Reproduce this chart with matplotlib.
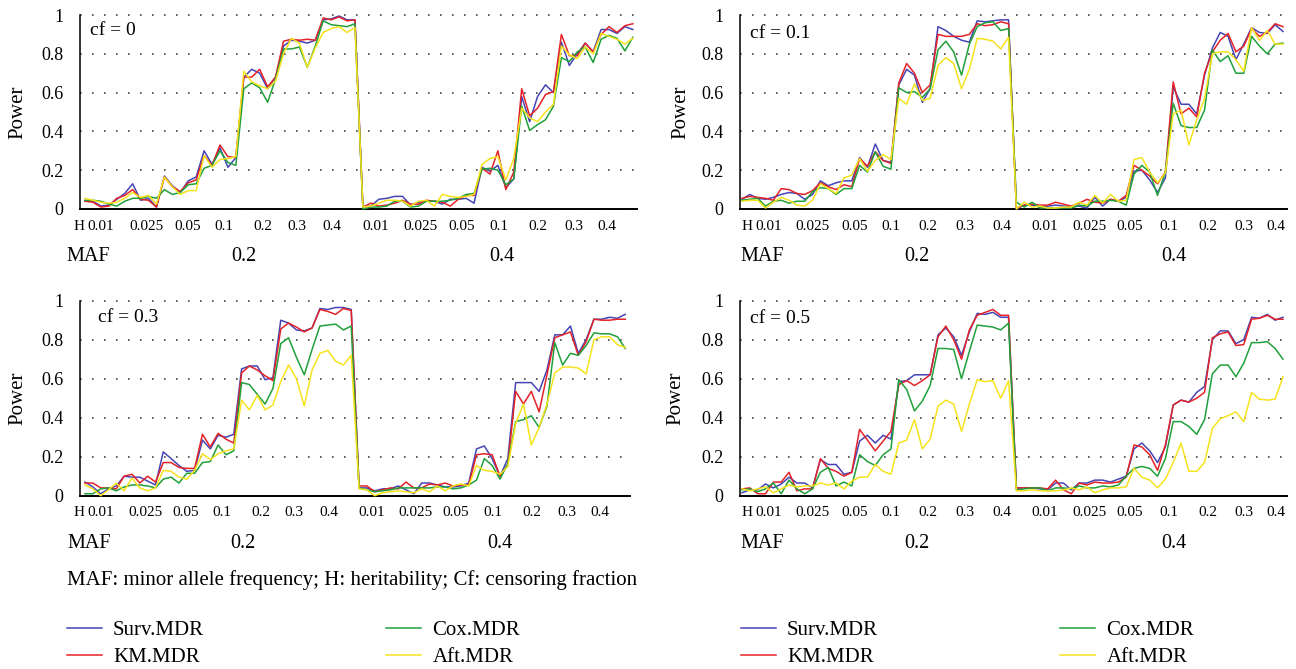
import numpy as np
import matplotlib.pyplot as plt
from matplotlib.transforms import blended_transform_factory

plt.rcParams['font.family'] = ['Liberation Serif', 'DejaVu Serif']

methods = ['Surv.MDR', 'KM.MDR', 'Cox.MDR', 'Aft.MDR']
colors = ['#4545b5', '#e42328', '#20a03a', '#f6e31e']
h_labels = ['0.01', '0.025', '0.05', '0.1', '0.2', '0.3', '0.4']
maf_labels = ['0.2', '0.4']
cf_labels = ['cf = 0', 'cf = 0.1', 'cf = 0.3', 'cf = 0.5']

# power per scenario: 2 MAF x 7 H x 5 models = 70 points
cf0_surv = [0.04, 0.04, 0.015, 0.02, 0.05, 0.08, 0.13, 0.045, 0.055, 0.01,
            0.17, 0.12, 0.085, 0.145, 0.165, 0.30, 0.23, 0.315, 0.215, 0.265,
            0.68, 0.72, 0.70, 0.62, 0.68, 0.84, 0.87, 0.865, 0.855, 0.87,
            0.975, 0.98, 0.995, 0.975, 0.975,
            0.01, 0.015, 0.05, 0.055, 0.065, 0.065, 0.02, 0.035, 0.04, 0.04,
            0.025, 0.05, 0.05, 0.055, 0.03, 0.215, 0.195, 0.225, 0.11, 0.155,
            0.58, 0.45, 0.58, 0.64, 0.60, 0.86, 0.74, 0.80, 0.855, 0.81,
            0.925, 0.925, 0.905, 0.94, 0.925]
cf0_km = [0.04, 0.035, 0.01, 0.015, 0.055, 0.07, 0.10, 0.05, 0.045, 0.01,
          0.165, 0.115, 0.09, 0.135, 0.15, 0.275, 0.225, 0.33, 0.27, 0.265,
          0.68, 0.68, 0.72, 0.63, 0.68, 0.865, 0.875, 0.87, 0.875, 0.87,
          0.985, 0.975, 0.99, 0.97, 0.975,
          0.01, 0.03, 0.015, 0.02, 0.03, 0.045, 0.025, 0.025, 0.045, 0.04,
          0.035, 0.015, 0.05, 0.07, 0.07, 0.21, 0.18, 0.30, 0.10, 0.19,
          0.62, 0.48, 0.52, 0.59, 0.605, 0.90, 0.79, 0.79, 0.855, 0.81,
          0.90, 0.94, 0.91, 0.945, 0.955]
cf0_cox = [0.045, 0.045, 0.04, 0.025, 0.015, 0.04, 0.055, 0.055, 0.065, 0.055,
           0.10, 0.075, 0.085, 0.125, 0.13, 0.21, 0.225, 0.30, 0.24, 0.225,
           0.62, 0.65, 0.625, 0.55, 0.67, 0.825, 0.825, 0.835, 0.73, 0.84,
           0.97, 0.95, 0.945, 0.94, 0.955,
           0.0, 0.01, 0.01, 0.015, 0.04, 0.04, 0.01, 0.015, 0.04, 0.04,
           0.04, 0.045, 0.055, 0.075, 0.08, 0.205, 0.21, 0.20, 0.125, 0.155,
           0.53, 0.405, 0.435, 0.46, 0.53, 0.78, 0.76, 0.81, 0.835, 0.755,
           0.875, 0.895, 0.88, 0.815, 0.885]
cf0_aft = [0.055, 0.045, 0.035, 0.03, 0.035, 0.055, 0.085, 0.06, 0.07, 0.025,
           0.165, 0.115, 0.075, 0.095, 0.095, 0.275, 0.215, 0.255, 0.26, 0.27,
           0.71, 0.655, 0.635, 0.62, 0.66, 0.80, 0.88, 0.855, 0.73, 0.83,
           0.91, 0.93, 0.94, 0.91, 0.935,
           0.01, 0.015, 0.03, 0.045, 0.045, 0.04, 0.015, 0.04, 0.045, 0.015,
           0.075, 0.065, 0.06, 0.065, 0.075, 0.23, 0.26, 0.27, 0.15, 0.26,
           0.52, 0.47, 0.45, 0.50, 0.54, 0.84, 0.795, 0.775, 0.835, 0.80,
           0.905, 0.89, 0.875, 0.85, 0.88]

cf1_surv = [0.05, 0.075, 0.055, 0.05, 0.06, 0.075, 0.085, 0.08, 0.05, 0.075,
            0.145, 0.12, 0.135, 0.145, 0.145, 0.265, 0.215, 0.335, 0.25, 0.24,
            0.64, 0.72, 0.69, 0.55, 0.62, 0.94, 0.92, 0.89, 0.87, 0.86,
            0.97, 0.965, 0.97, 0.975, 0.975,
            0.0, 0.02, 0.02, 0.01, 0.015, 0.02, 0.015, 0.01, 0.015, 0.005,
            0.06, 0.015, 0.05, 0.04, 0.06, 0.195, 0.20, 0.15, 0.085, 0.16,
            0.63, 0.54, 0.54, 0.49, 0.69, 0.83, 0.91, 0.89, 0.77, 0.85,
            0.935, 0.91, 0.905, 0.95, 0.915]
cf1_km = [0.055, 0.065, 0.06, 0.055, 0.045, 0.105, 0.10, 0.08, 0.075, 0.095,
          0.135, 0.115, 0.10, 0.125, 0.115, 0.26, 0.22, 0.295, 0.25, 0.235,
          0.65, 0.75, 0.70, 0.60, 0.64, 0.90, 0.89, 0.89, 0.89, 0.90,
          0.955, 0.945, 0.95, 0.965, 0.955,
          0.005, 0.02, 0.025, 0.02, 0.02, 0.035, 0.025, 0.015, 0.03, 0.05,
          0.035, 0.03, 0.05, 0.04, 0.07, 0.225, 0.20, 0.17, 0.13, 0.19,
          0.655, 0.49, 0.52, 0.475, 0.70, 0.81, 0.87, 0.905, 0.81, 0.84,
          0.93, 0.89, 0.91, 0.955, 0.94]
cf1_cox = [0.045, 0.05, 0.055, 0.015, 0.04, 0.045, 0.03, 0.04, 0.04, 0.09,
           0.11, 0.105, 0.075, 0.105, 0.105, 0.225, 0.19, 0.295, 0.22, 0.205,
           0.625, 0.60, 0.605, 0.575, 0.62, 0.82, 0.865, 0.81, 0.69, 0.85,
           0.94, 0.96, 0.965, 0.92, 0.93,
           0.035, 0.01, 0.035, 0.005, 0.005, 0.005, 0.005, 0.005, 0.02, 0.015,
           0.04, 0.04, 0.045, 0.04, 0.02, 0.18, 0.225, 0.19, 0.07, 0.19,
           0.545, 0.43, 0.42, 0.42, 0.51, 0.82, 0.76, 0.79, 0.70, 0.70,
           0.89, 0.84, 0.80, 0.85, 0.855]
cf1_aft = [0.04, 0.045, 0.045, 0.005, 0.035, 0.06, 0.045, 0.02, 0.015, 0.045,
           0.13, 0.105, 0.08, 0.16, 0.175, 0.26, 0.195, 0.25, 0.28, 0.255,
           0.57, 0.54, 0.645, 0.56, 0.57, 0.74, 0.78, 0.75, 0.62, 0.72,
           0.88, 0.875, 0.865, 0.825, 0.885,
           0.0, 0.035, 0.01, 0.015, 0.005, 0.005, 0.01, 0.01, 0.035, 0.02,
           0.07, 0.03, 0.075, 0.04, 0.045, 0.255, 0.265, 0.19, 0.135, 0.185,
           0.49, 0.51, 0.33, 0.46, 0.57, 0.80, 0.81, 0.81, 0.77, 0.71,
           0.935, 0.87, 0.92, 0.85, 0.85]

cf3_surv = [0.07, 0.045, 0.01, 0.035, 0.05, 0.10, 0.095, 0.095, 0.075, 0.055,
            0.225, 0.19, 0.155, 0.125, 0.13, 0.285, 0.24, 0.31, 0.30, 0.315,
            0.65, 0.665, 0.665, 0.595, 0.605, 0.90, 0.885, 0.85, 0.845, 0.86,
            0.96, 0.955, 0.965, 0.965, 0.955,
            0.04, 0.04, 0.025, 0.035, 0.035, 0.05, 0.03, 0.01, 0.065, 0.065,
            0.055, 0.045, 0.045, 0.05, 0.065, 0.24, 0.255, 0.19, 0.10, 0.19,
            0.58, 0.58, 0.58, 0.535, 0.645, 0.825, 0.825, 0.87, 0.73, 0.80,
            0.905, 0.905, 0.915, 0.91, 0.93]
cf3_km = [0.065, 0.065, 0.04, 0.04, 0.035, 0.10, 0.11, 0.065, 0.10, 0.07,
          0.17, 0.17, 0.145, 0.14, 0.14, 0.315, 0.25, 0.32, 0.29, 0.27,
          0.63, 0.665, 0.645, 0.615, 0.59, 0.855, 0.885, 0.865, 0.84, 0.86,
          0.955, 0.945, 0.93, 0.96, 0.95,
          0.05, 0.05, 0.02, 0.03, 0.04, 0.035, 0.07, 0.04, 0.04, 0.06,
          0.055, 0.065, 0.05, 0.055, 0.055, 0.21, 0.215, 0.21, 0.10, 0.16,
          0.535, 0.47, 0.535, 0.43, 0.62, 0.81, 0.825, 0.84, 0.72, 0.79,
          0.905, 0.90, 0.90, 0.905, 0.905]
cf3_cox = [0.01, 0.01, 0.035, 0.04, 0.025, 0.045, 0.055, 0.055, 0.05, 0.04,
           0.085, 0.095, 0.065, 0.115, 0.115, 0.17, 0.175, 0.26, 0.21, 0.23,
           0.58, 0.57, 0.52, 0.47, 0.55, 0.78, 0.81, 0.71, 0.62, 0.75,
           0.87, 0.875, 0.88, 0.85, 0.87,
           0.04, 0.03, 0.02, 0.025, 0.03, 0.04, 0.04, 0.04, 0.04, 0.04,
           0.045, 0.045, 0.035, 0.04, 0.055, 0.08, 0.19, 0.155, 0.085, 0.165,
           0.38, 0.39, 0.41, 0.35, 0.46, 0.785, 0.67, 0.73, 0.72, 0.77,
           0.835, 0.83, 0.83, 0.815, 0.755]
cf3_aft = [0.055, 0.035, 0.0, 0.03, 0.065, 0.025, 0.09, 0.04, 0.025, 0.04,
           0.13, 0.125, 0.095, 0.085, 0.13, 0.215, 0.185, 0.215, 0.23, 0.24,
           0.49, 0.44, 0.515, 0.44, 0.465, 0.585, 0.67, 0.60, 0.46, 0.645,
           0.73, 0.745, 0.69, 0.67, 0.72,
           0.035, 0.03, 0.0, 0.015, 0.02, 0.025, 0.02, 0.015, 0.035, 0.02,
           0.05, 0.025, 0.05, 0.06, 0.05, 0.155, 0.13, 0.125, 0.11, 0.15,
           0.37, 0.47, 0.26, 0.35, 0.47, 0.63, 0.66, 0.66, 0.655, 0.625,
           0.80, 0.815, 0.815, 0.775, 0.76]

cf5_surv = [0.015, 0.03, 0.03, 0.06, 0.04, 0.06, 0.095, 0.065, 0.065, 0.04,
            0.185, 0.16, 0.16, 0.11, 0.12, 0.28, 0.31, 0.27, 0.31, 0.29,
            0.585, 0.59, 0.62, 0.62, 0.62, 0.825, 0.86, 0.815, 0.72, 0.84,
            0.935, 0.93, 0.94, 0.915, 0.915,
            0.04, 0.04, 0.04, 0.035, 0.03, 0.065, 0.065, 0.03, 0.065, 0.065,
            0.08, 0.08, 0.07, 0.085, 0.10, 0.24, 0.27, 0.23, 0.17, 0.25,
            0.465, 0.49, 0.48, 0.53, 0.56, 0.80, 0.845, 0.845, 0.78, 0.80,
            0.915, 0.91, 0.93, 0.90, 0.915]
cf5_km = [0.035, 0.04, 0.01, 0.01, 0.07, 0.07, 0.12, 0.025, 0.035, 0.035,
          0.19, 0.14, 0.125, 0.10, 0.12, 0.34, 0.285, 0.23, 0.28, 0.33,
          0.57, 0.59, 0.565, 0.59, 0.62, 0.815, 0.87, 0.80, 0.70, 0.85,
          0.925, 0.94, 0.955, 0.925, 0.925,
          0.04, 0.04, 0.04, 0.04, 0.035, 0.08, 0.03, 0.01, 0.065, 0.055,
          0.07, 0.065, 0.065, 0.07, 0.095, 0.26, 0.25, 0.21, 0.13, 0.26,
          0.465, 0.49, 0.48, 0.50, 0.53, 0.81, 0.83, 0.84, 0.77, 0.775,
          0.905, 0.91, 0.925, 0.905, 0.905]
cf5_cox = [0.03, 0.035, 0.02, 0.035, 0.065, 0.01, 0.08, 0.035, 0.01, 0.035,
           0.12, 0.145, 0.05, 0.07, 0.05, 0.21, 0.175, 0.155, 0.21, 0.24,
           0.595, 0.545, 0.435, 0.485, 0.565, 0.755, 0.755, 0.75, 0.60, 0.74,
           0.875, 0.87, 0.865, 0.85, 0.885,
           0.03, 0.035, 0.04, 0.04, 0.025, 0.04, 0.04, 0.035, 0.05, 0.04,
           0.04, 0.05, 0.045, 0.055, 0.10, 0.14, 0.15, 0.14, 0.10, 0.19,
           0.38, 0.38, 0.355, 0.315, 0.39, 0.625, 0.67, 0.67, 0.61, 0.68,
           0.785, 0.785, 0.79, 0.755, 0.70]
cf5_aft = [0.035, 0.025, 0.035, 0.045, 0.015, 0.035, 0.055, 0.045, 0.05, 0.05,
           0.065, 0.055, 0.065, 0.035, 0.075, 0.095, 0.095, 0.16, 0.125, 0.11,
           0.27, 0.285, 0.39, 0.24, 0.29, 0.46, 0.49, 0.47, 0.33, 0.47,
           0.595, 0.585, 0.59, 0.50, 0.59,
           0.025, 0.025, 0.03, 0.025, 0.025, 0.025, 0.03, 0.04, 0.03, 0.045,
           0.015, 0.03, 0.04, 0.04, 0.045, 0.14, 0.095, 0.08, 0.04, 0.085,
           0.17, 0.27, 0.125, 0.125, 0.17, 0.345, 0.395, 0.41, 0.43, 0.38,
           0.53, 0.495, 0.49, 0.495, 0.61]

panels = [
    [cf0_surv, cf0_km, cf0_cox, cf0_aft],
    [cf1_surv, cf1_km, cf1_cox, cf1_aft],
    [cf3_surv, cf3_km, cf3_cox, cf3_aft],
    [cf5_surv, cf5_km, cf5_cox, cf5_aft],
]

W, H = 1296, 669
fig = plt.figure(figsize=(W / 100, H / 100), dpi=100)

# pixel boxes (left, right, top, bottom) and first point / spacing
boxes = [(80, 637, 15, 209), (740, 1287, 15, 209),
         (80, 630, 300.7, 495.7), (740, 1287, 300.7, 495.7)]
first_px = [85, 742, 85, 742]
step_px = [7.94, 7.84, 7.83, 7.84]
# label positions (index units) of the H row, MAF row
left_ticks = [2.0, 7.7, 12.9, 17.5, 22.4, 26.7, 31.1,
              36.6, 42.2, 47.4, 52.1, 57.1, 61.6, 65.7]
right_ticks = [3.4, 9.0, 14.4, 19.0, 23.7, 28.4, 33.1,
               38.6, 44.3, 49.4, 54.4, 59.4, 64.0, 68.1]
h_x = [-0.76, 0.64, -0.76, 0.64]
maf_x = [[20.0, 52.5], [22.3, 55.1], [20.2, 53.0], [22.3, 55.1]]
maf_name_x = [-2.3, -0.26, -2.3, -0.26]
cf_pos = [(0.018, 0.918), (0.018, 0.907), (0.033, 0.916), (0.018, 0.911)]
power_x = [-0.111, -0.108, -0.113, -0.117]

x = np.arange(70)
handles = None
for k, series in enumerate(panels):
    l, r, t, b = boxes[k]
    ax = fig.add_axes([l / W, 1 - b / H, (r - l) / W, (b - t) / H])
    f0, st = first_px[k], step_px[k]
    ax.set_xlim((l - f0) / st, (r - f0) / st)
    ax.set_ylim(0, 1)

    hs = []
    for vals, c, name in zip(series, colors, methods):
        ln, = ax.plot(x, vals, color=c, lw=1.1, label=name, clip_on=False, zorder=3)
        hs.append(ln)
    handles = hs

    ax.spines['top'].set_visible(False)
    ax.spines['right'].set_visible(False)
    ax.spines['left'].set_linewidth(1.1)
    ax.spines['bottom'].set_linewidth(1.4)
    ax.set_yticks([0, 0.2, 0.4, 0.6, 0.8, 1.0])
    ax.set_yticklabels(['0', '0.2', '0.4', '0.6', '0.8', '1'])
    ax.tick_params(axis='y', length=0, pad=12, labelsize=13)
    ax.set_xticks([])
    ax.yaxis.grid(True, linestyle=(0, (1, 6.2)), lw=1.2, color='#444444')
    for gl in ax.get_ygridlines():
        gl.set_clip_on(False)

    tr = blended_transform_factory(ax.transData, ax.transAxes)
    ticks = left_ticks if k % 2 == 0 else right_ticks
    for j, pos in enumerate(ticks):
        ax.text(pos, -0.088, h_labels[j % 7], transform=tr, ha='center',
                va='center', fontsize=11)
    ax.text(h_x[k], -0.088, 'H', transform=tr, ha='center', va='center', fontsize=11)
    ax.text(maf_name_x[k], -0.245, 'MAF', transform=tr, ha='left', va='center', fontsize=14.5)
    for j, pos in enumerate(maf_x[k]):
        ax.text(pos, -0.245, maf_labels[j], transform=tr, ha='center',
                va='center', fontsize=14.5)
    ax.text(cf_pos[k][0], cf_pos[k][1], cf_labels[k], transform=ax.transAxes,
            ha='left', va='center', fontsize=14)
    ax.text(power_x[k], 0.5, 'Power', transform=ax.transAxes, rotation=90,
            ha='center', va='center', fontsize=15)

fig.text(67 / W, 1 - 580 / H,
         'MAF: minor allele frequency; H: heritability; Cf: censoring fraction',
         ha='left', va='center', fontsize=15)

for lx in (67, 741):
    fig.legend(handles, methods, loc='center left',
               bbox_to_anchor=(lx / W, 1 - 644 / H), ncol=2, frameon=False,
               fontsize=15, handlelength=1.68, handletextpad=0.53,
               columnspacing=8.75, labelspacing=0.37, borderpad=0,
               borderaxespad=0)

fig.savefig('out.png', dpi=100)
